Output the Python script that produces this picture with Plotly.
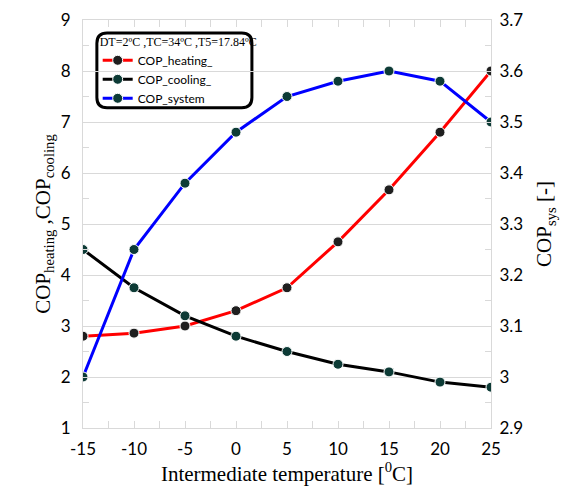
import plotly.graph_objects as go

# intermediate temperature [C]
temps = [-15, -10, -5, 0, 5, 10, 15, 20, 25]
temp_labels = ["-15", "-10", "-5", "0", "5", "10", "15", "20", "25"]

# COP values
cop_heating = [2.8, 2.86, 3.0, 3.3, 3.75, 4.65, 5.67, 6.8, 8.0]
cop_cooling = [4.5, 3.75, 3.2, 2.8, 2.5, 2.25, 2.1, 1.9, 1.8]
cop_system = [3.0, 3.25, 3.38, 3.48, 3.55, 3.58, 3.6, 3.58, 3.5]

legend_title = "DT=2ºC ,TC=34ºC ,T5=17.84ºC"

serif = "Liberation Serif, Times New Roman, serif"
sans = "Lato, Open Sans, sans-serif"
grid = "#d9d9d9"

fig = go.Figure()

fig.add_trace(go.Scatter(
    x=temps, y=cop_heating, name="COP_heating_",
    mode="lines+markers",
    line=dict(color="#ff0000", width=3),
    marker=dict(color="#1f1f1f", size=10, line=dict(color="white", width=1)),
))
fig.add_trace(go.Scatter(
    x=temps, y=cop_cooling, name="COP_cooling_",
    mode="lines+markers",
    line=dict(color="#000000", width=3),
    marker=dict(color="#0d3b36", size=10, line=dict(color="white", width=1)),
))
fig.add_trace(go.Scatter(
    x=temps, y=cop_system, name="COP_system",
    mode="lines+markers", yaxis="y2",
    line=dict(color="#0000ff", width=3),
    marker=dict(color="#0d3b36", size=10, line=dict(color="white", width=1)),
))

# rounded frame around the legend
x0, x1, y0, y1, r = 0.034, 0.414, 0.785, 0.968, 0.025
path = (f"M {x0+r},{y0} L {x1-r},{y0} Q {x1},{y0} {x1},{y0+r} "
        f"L {x1},{y1-r} Q {x1},{y1} {x1-r},{y1} "
        f"L {x0+r},{y1} Q {x0},{y1} {x0},{y1-r} "
        f"L {x0},{y0+r} Q {x0},{y0} {x0+r},{y0} Z")
fig.add_shape(type="path", path=path, xref="paper", yref="paper",
              line=dict(color="black", width=3), fillcolor="white", layer="below")

# page body has an 8px margin, so the figure is a little smaller than the window
fig.update_layout(
    width=567, height=485,
    margin=dict(l=75, r=84, t=12, b=65),
    paper_bgcolor="white", plot_bgcolor="white",
    showlegend=True,
    legend=dict(
        x=0.036, y=0.975, xanchor="left", yanchor="top",
        bgcolor="rgba(0,0,0,0)", borderwidth=0,
        title=dict(text=legend_title, font=dict(family=serif, size=12, color="black"), side="top"),
        font=dict(family=sans, size=12, color="black"),
        tracegroupgap=0, itemwidth=30,
    ),
    xaxis=dict(
        range=[-15, 25], tickmode="array", tickvals=temps, ticktext=temp_labels,
        showgrid=False, zeroline=False, automargin=False,
        showline=True, linecolor=grid, linewidth=1, mirror="allticks",
        ticks="inside", ticklen=7, tickcolor=grid,
        minor=dict(dtick=2.5, ticks="inside", ticklen=4, tickcolor=grid),
        tickfont=dict(family=sans, size=17, color="black"),
        ticklabelstandoff=6,
        title=dict(text="Intermediate temperature [<sup>0</sup>C]",
                   font=dict(family=serif, size=21, color="black"), standoff=2),
    ),
    yaxis=dict(
        range=[1, 9], dtick=1,
        showgrid=True, gridcolor=grid, zeroline=False, automargin=False,
        showline=True, linecolor=grid, linewidth=1,
        ticks="inside", ticklen=7, tickcolor=grid,
        minor=dict(dtick=0.5, ticks="inside", ticklen=6, tickcolor=grid),
        tickfont=dict(family=sans, size=17, color="black"),
        ticklabelstandoff=8,
        title=dict(text="COP<sub>heating</sub> ,COP<sub>cooling</sub>",
                   font=dict(family=serif, size=21, color="black"), standoff=4),
    ),
    yaxis2=dict(
        range=[2.9, 3.7], dtick=0.1, overlaying="y", side="right",
        showgrid=False, zeroline=False, automargin=False,
        showline=True, linecolor=grid, linewidth=1,
        ticks="inside", ticklen=7, tickcolor=grid,
        minor=dict(dtick=0.05, ticks="inside", ticklen=6, tickcolor=grid),
        tickfont=dict(family=sans, size=17, color="black"),
        ticklabelstandoff=4,
        title=dict(text="COP<sub>sys</sub> [-]",
                   font=dict(family=serif, size=21, color="black"), standoff=14),
    ),
)

fig.write_html("out.html")
